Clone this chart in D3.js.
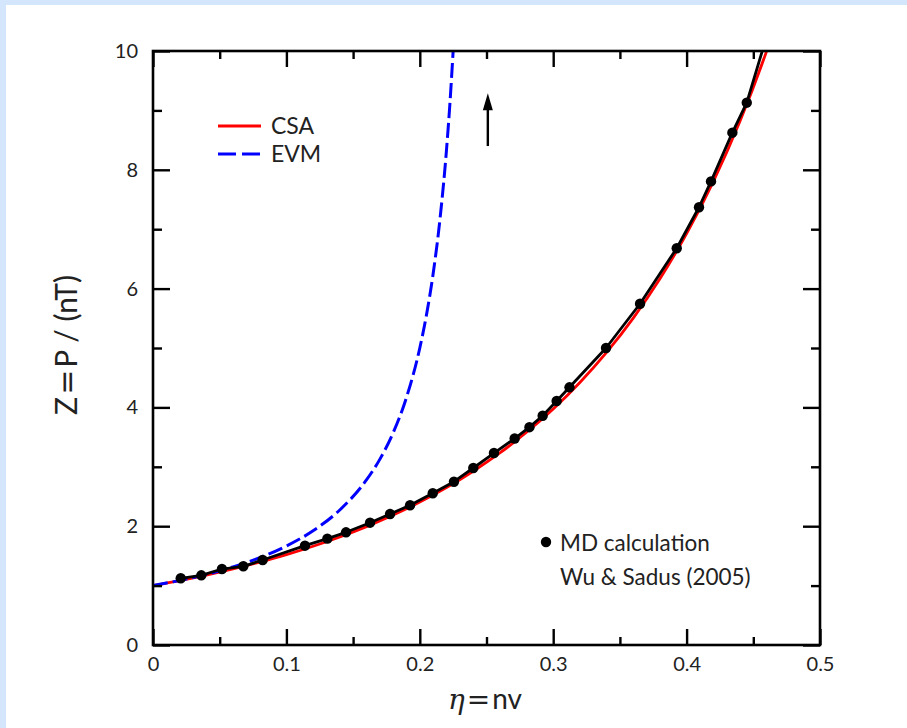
<!DOCTYPE html>
<html>
<head>
<meta charset="utf-8">
<script src="https://cdn.jsdelivr.net/npm/d3@7"></script>
<style>
  html, body { margin: 0; padding: 0; background: #fff; }
  svg { display: block; }
  text { font-family: Lato, "Open Sans", sans-serif; fill: #222; }
</style>
</head>
<body>
<svg id="chart" width="907" height="728"></svg>
<script>
// ---- data ----
const xTicks = [0, 0.1, 0.2, 0.3, 0.4, 0.5];
const xTickLabels = ["0", "0.1", "0.2", "0.3", "0.4", "0.5"];
const yTicks = [0, 2, 4, 6, 8, 10];
const yTickLabels = ["0", "2", "4", "6", "8", "10"];

// CSA (red solid)
const csaEta = [0, 0.02, 0.04, 0.06, 0.08, 0.10, 0.12, 0.14, 0.16, 0.18, 0.20, 0.22, 0.24, 0.26, 0.28, 0.30, 0.32, 0.34, 0.36, 0.38, 0.40, 0.42, 0.44, 0.46, 0.462];
const csaZ   = [1.000, 1.084, 1.177, 1.280, 1.395, 1.521, 1.662, 1.819, 1.993, 2.188, 2.406, 2.650, 2.925, 3.233, 3.581, 3.974, 4.420, 4.926, 5.504, 6.166, 6.926, 7.802, 8.817, 9.998, 10.126];

// EVM (blue dashed)
const evmEta = [0, 0.02, 0.04, 0.06, 0.08, 0.10, 0.12, 0.14, 0.16, 0.17, 0.18, 0.19, 0.20, 0.205, 0.21, 0.215, 0.22, 0.2225, 0.225];
const evmZ   = [1.000, 1.087, 1.190, 1.316, 1.471, 1.667, 1.923, 2.273, 2.778, 3.125, 3.571, 4.167, 5.000, 5.556, 6.250, 7.143, 8.333, 9.091, 10.000];

// MD calculation, Wu & Sadus (2005) (black dots joined by a line)
const mdEta = [0.0208, 0.0362, 0.0517, 0.0677, 0.0822, 0.1139, 0.1307, 0.1447, 0.1627, 0.1777, 0.1927, 0.2097, 0.2256, 0.2401, 0.2556, 0.2711, 0.2822, 0.2921, 0.3026, 0.3122, 0.3396, 0.3651, 0.3926, 0.4093, 0.4183, 0.4343, 0.4451, 0.4650];
const mdZ   = [1.123, 1.173, 1.279, 1.325, 1.431, 1.672, 1.790, 1.897, 2.059, 2.205, 2.352, 2.554, 2.749, 2.980, 3.232, 3.476, 3.667, 3.860, 4.108, 4.338, 5.000, 5.745, 6.680, 7.370, 7.805, 8.625, 9.130, 10.620];

// arrow annotation
const arrowEta = 0.251;
const arrowZ = [8.40, 9.29];

const seriesNames = ["CSA", "EVM"];
const mdLabel = ["MD calculation", "Wu & Sadus (2005)"];

// ---- layout ----
const W = 907, H = 728;
const L = 153, R = 820, T = 51, B = 645;

const svg = d3.select("#chart");

// page frame (light blue strips)
svg.append("rect").attr("x", 0).attr("y", 0).attr("width", W).attr("height", H).attr("fill", "#fff");
svg.append("rect").attr("x", 0).attr("y", 0).attr("width", W).attr("height", 5).attr("fill", "#d3e6fb");
svg.append("rect").attr("x", 0).attr("y", 0).attr("width", 6).attr("height", H).attr("fill", "#d3e6fb");

const x = d3.scaleLinear().domain([0, 0.5]).range([L, R]);
const y = d3.scaleLinear().domain([0, 10]).range([B, T]);

svg.append("defs").append("clipPath").attr("id", "clip")
  .append("rect").attr("x", L).attr("y", T).attr("width", R - L).attr("height", B - T);

const plot = svg.append("g").attr("clip-path", "url(#clip)");

const line = d3.line().x(d => x(d[0])).y(d => y(d[1])).curve(d3.curveMonotoneX);
const lineLin = d3.line().x(d => x(d[0])).y(d => y(d[1]));

// CSA
plot.append("path")
  .datum(csaEta.map((e, i) => [e, csaZ[i]]))
  .attr("d", line).attr("fill", "none").attr("stroke", "#ff0000").attr("stroke-width", 2.8);

// EVM
plot.append("path")
  .datum(evmEta.map((e, i) => [e, evmZ[i]]))
  .attr("d", line).attr("fill", "none").attr("stroke", "#0000ff").attr("stroke-width", 3)
  .attr("stroke-dasharray", "15,5");

// MD line + dots
const md = mdEta.map((e, i) => [e, mdZ[i]]);
plot.append("path").datum(md).attr("d", lineLin)
  .attr("fill", "none").attr("stroke", "#000").attr("stroke-width", 2.8).attr("stroke-linejoin", "round");
plot.selectAll("circle.md").data(md).enter().append("circle")
  .attr("class", "md").attr("cx", d => x(d[0])).attr("cy", d => y(d[1])).attr("r", 5.2).attr("fill", "#000");

// ---- axes (ticks inward, frame) ----
function styleAxis(g) {
  g.select(".domain").remove();
  g.selectAll(".tick line").attr("stroke", "#000").attr("stroke-width", 2.4);
  g.selectAll(".tick text").style("font-family", "Lato, sans-serif").style("font-size", "20px").attr("fill", "#222");
}
const xMinor = d3.range(0.05, 0.5, 0.1);
const yMinor = d3.range(1, 10, 2);

// bottom major
svg.append("g").attr("transform", `translate(0,${B})`)
  .call(d3.axisBottom(x).tickValues(xTicks).tickFormat((d, i) => xTickLabels[i]).tickSizeInner(-16).tickSizeOuter(0).tickPadding(12))
  .call(styleAxis);
svg.append("g").attr("transform", `translate(0,${B})`)
  .call(d3.axisBottom(x).tickValues(xMinor).tickFormat("").tickSizeInner(-8).tickSizeOuter(0))
  .call(styleAxis);
// top
svg.append("g").attr("transform", `translate(0,${T})`)
  .call(d3.axisTop(x).tickValues(xTicks).tickFormat("").tickSizeInner(-16).tickSizeOuter(0))
  .call(styleAxis);
svg.append("g").attr("transform", `translate(0,${T})`)
  .call(d3.axisTop(x).tickValues(xMinor).tickFormat("").tickSizeInner(-8).tickSizeOuter(0))
  .call(styleAxis);
// left
svg.append("g").attr("transform", `translate(${L},0)`)
  .call(d3.axisLeft(y).tickValues(yTicks).tickFormat((d, i) => yTickLabels[i]).tickSizeInner(-17).tickSizeOuter(0).tickPadding(15))
  .call(styleAxis);
svg.append("g").attr("transform", `translate(${L},0)`)
  .call(d3.axisLeft(y).tickValues(yMinor).tickFormat("").tickSizeInner(-9).tickSizeOuter(0))
  .call(styleAxis);
// right
svg.append("g").attr("transform", `translate(${R},0)`)
  .call(d3.axisRight(y).tickValues(yTicks).tickFormat("").tickSizeInner(-17).tickSizeOuter(0))
  .call(styleAxis);
svg.append("g").attr("transform", `translate(${R},0)`)
  .call(d3.axisRight(y).tickValues(yMinor).tickFormat("").tickSizeInner(-9).tickSizeOuter(0))
  .call(styleAxis);

// frame
svg.append("rect").attr("x", L).attr("y", T).attr("width", R - L).attr("height", B - T)
  .attr("fill", "none").attr("stroke", "#000").attr("stroke-width", 2.6);

// ---- arrow ----
const ax = x(arrowEta);
svg.append("line")
  .attr("x1", ax).attr("x2", ax)
  .attr("y1", y(arrowZ[0])).attr("y2", y(arrowZ[1]) + 12)
  .attr("stroke", "#000").attr("stroke-width", 2.4);
svg.append("path")
  .attr("d", `M${ax},${y(arrowZ[1])} L${ax - 5},${y(arrowZ[1]) + 17} L${ax + 5},${y(arrowZ[1]) + 17} Z`)
  .attr("fill", "#000");

// ---- legend ----
const lg = svg.append("g");
lg.append("line").attr("x1", 218).attr("x2", 261).attr("y1", 126).attr("y2", 126)
  .attr("stroke", "#ff0000").attr("stroke-width", 2.8);
lg.append("line").attr("x1", 218).attr("x2", 261).attr("y1", 154).attr("y2", 154)
  .attr("stroke", "#0000ff").attr("stroke-width", 3).attr("stroke-dasharray", "18,6");
lg.append("text").attr("x", 271).attr("y", 126).attr("dy", "0.36em").style("font-size", "23px").text(seriesNames[0]);
lg.append("text").attr("x", 271).attr("y", 154).attr("dy", "0.36em").style("font-size", "23px").text(seriesNames[1]);

// MD label
svg.append("circle").attr("cx", 546).attr("cy", 542).attr("r", 5.2).attr("fill", "#000");
svg.append("text").attr("x", 560).attr("y", 543).attr("dy", "0.36em").style("font-size", "22.5px").text(mdLabel[0]);
svg.append("text").attr("x", 560).attr("y", 577).attr("dy", "0.36em").style("font-size", "22.5px").text(mdLabel[1]);

// ---- axis titles ----
const xt = svg.append("text").attr("x", 485).attr("y", 709).attr("text-anchor", "middle").style("font-size", "28px");
xt.append("tspan").style("font-family", "'DejaVu Serif', 'Liberation Serif', serif").style("font-style", "italic").text("η");
xt.append("tspan").style("font-family", "'DejaVu Sans', sans-serif").attr("dx", 2).text("=");
xt.append("tspan").attr("dx", 2).text("nv");

const yt = svg.append("text").attr("transform", "translate(77,345) rotate(-90)")
  .attr("text-anchor", "middle").style("font-size", "30px");
yt.append("tspan").text("Z");
yt.append("tspan").style("font-family", "'DejaVu Sans', sans-serif").attr("dx", 2).text("=");
yt.append("tspan").attr("dx", 2).text("P / (nT)");
</script>
</body>
</html>
